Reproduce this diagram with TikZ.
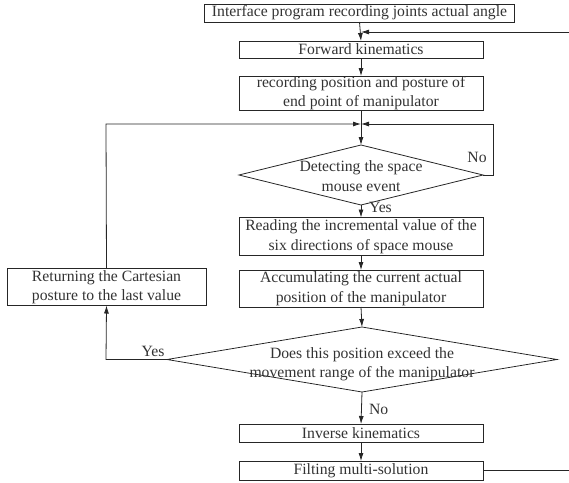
\documentclass[tikz,border=0pt]{standalone}
\usepackage{fontspec}
\setmainfont{Liberation Serif}
\usetikzlibrary{shapes.geometric,arrows.meta}
\begin{document}
\begin{tikzpicture}[x=1pt,y=-1pt,
  every node/.style={inner sep=0pt, outer sep=0pt, text=black!80},
  txt/.style={font=\fontsize{15.7}{19.5}\selectfont, align=center},
  box/.style={txt, draw=black!85, line width=0.8pt, rectangle, minimum width=244pt},
  dia/.style={draw=black!85, line width=0.8pt, diamond, shape aspect=1},
  lbl/.style={font=\fontsize{15.7}{19}\selectfont},
  con/.style={draw=black!85, line width=0.8pt},
  arr/.style={con, -{Latex[length=8pt,width=5pt]}}]
\useasboundingbox (0,0) rectangle (569,482);
\node[box, minimum width=310pt, minimum height=18pt] (top) at (359.5,13) {Interface program recording joints actual angle};
\node[box, minimum height=17pt] (fk) at (361,49.5) {Forward kinematics};
\node[box, minimum height=34pt] (rec) at (361,93) {recording position and posture of\\end point of manipulator};
\node[dia, minimum width=244pt, minimum height=60pt] (d1) at (361,175) {};
\node[txt] (d1t) at (361,176) {Detecting the space\\mouse event};
\node[box, minimum height=38pt] (read) at (361,236.5) {Reading the incremental value of the\\six directions of space mouse};
\node[box, minimum height=37pt] (acc) at (361,288.5) {Accumulating the current actual\\position of the manipulator};
\node[box, minimum width=199pt, minimum height=37pt] (ret) at (106.5,287) {Returning the Cartesian\\posture to the last value};
\node[dia, minimum width=390pt, minimum height=65pt] (d2) at (362,359.5) {};
\node[txt] (d2t) at (362,364) {Does this position exceed the\\movement range of the manipulator};
\node[box, minimum height=18pt] (inv) at (361,433) {Inverse kinematics};
\node[box, minimum height=19pt] (fil) at (361,470.5) {Filting multi-solution};
\coordinate (m) at (361,124);
\coordinate (fb) at (361,32);
\coordinate (rt) at (572,470.5);
\coordinate (lp) at (493,124);
\coordinate (lf) at (106,124);
\coordinate (ly) at (106,359.5);
% connectors
\draw[arr] (top.south) -- (fk.north);
\draw[arr] (fk.south) -- (rec.north);
\draw[arr] (rec.south) -- (d1.north);
\draw[arr] (d1.south) -- (read.north);
\draw[arr] (read.south) -- (acc.north);
\draw[arr] (acc.south) -- (d2.north);
\draw[arr] (d2.south) -- (inv.north);
\draw[arr] (inv.south) -- (fil.north);
\draw[arr] (fil.east) -- (rt) -- (rt |- fb) -- (fb);
\draw[arr] (d1.east) -- (lp |- d1.east) -- (lp) -- (m);
\draw[arr] (ret.north) -- (lf) -- (m);
\draw[arr] (d2.west) -- (ly) -- (ret.south);
\node[lbl, anchor=west] (yes1) at (369,207) {Yes};
\node[lbl, anchor=west] (no2) at (369,409) {No};
\node[lbl] (no1) at (477,157) {No};
\node[lbl] (yes2) at (153,351) {Yes};
\end{tikzpicture}
\end{document}
